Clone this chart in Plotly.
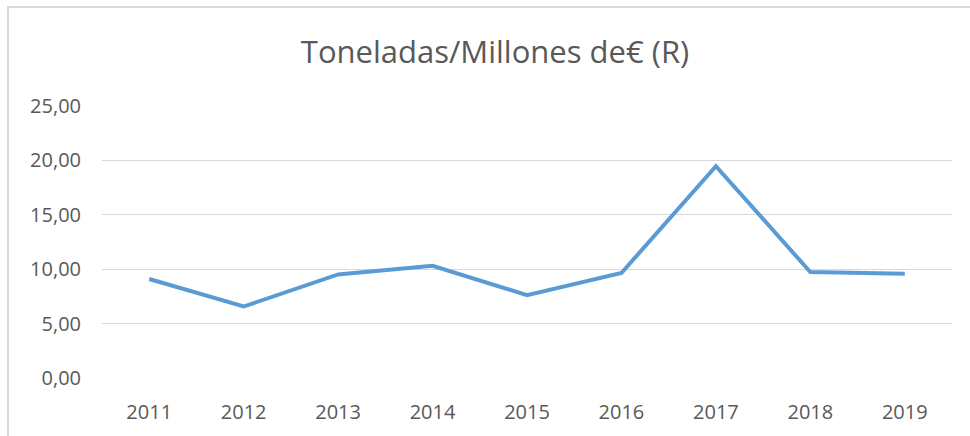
'''
    Line chart: Toneladas/Millones de€ (R), 2011-2019.
'''

import plotly.graph_objects as go

YEARS = ["2011", "2012", "2013", "2014", "2015", "2016", "2017", "2018", "2019"]
VALUES = [9.10, 6.57, 9.52, 10.32, 7.62, 9.65, 19.47, 9.74, 9.58]
Y_TICKS = [0, 5, 10, 15, 20, 25]

LINE_COLOR = "#5B9BD5"
GRID_COLOR = "#D9D9D9"
TEXT_COLOR = "#595959"
FONT = "Open Sans, Arial, sans-serif"

WIDTH, HEIGHT = 970, 436

# plot area in screen pixels, as measured on the reference
PLOT_L, PLOT_R, PLOT_T, PLOT_B = 102, 952, 106, 378


def px_to_paper_x(px):
    return (px - PLOT_L) / (PLOT_R - PLOT_L)


def px_to_paper_y(py):
    return (PLOT_B - py) / (PLOT_B - PLOT_T)


fig = go.Figure()

fig.add_trace(go.Scatter(
    x=YEARS,
    y=VALUES,
    mode="lines",
    line=dict(color=LINE_COLOR, width=4),
    hoverinfo="x+y",
))

fig.update_xaxes(
    type="category",
    range=[-0.5, len(YEARS) - 0.5],
    showgrid=False,
    zeroline=False,
    showline=False,
    ticks="",
    tickfont=dict(size=20, color=TEXT_COLOR, family=FONT),
    ticklabelstandoff=20,
)

fig.update_yaxes(
    range=[0, 25],
    tickvals=Y_TICKS,
    tickformat=".2f",
    showgrid=True,
    gridcolor=GRID_COLOR,
    gridwidth=1,
    zeroline=False,
    showline=False,
    ticks="",
    tickfont=dict(size=20, color=TEXT_COLOR, family=FONT),
    ticklabelstandoff=20,
)

# outer chart frame (light grey, open at right/bottom like the crop)
fig.add_shape(
    type="rect",
    xref="paper", yref="paper",
    x0=px_to_paper_x(8), x1=px_to_paper_x(WIDTH + 20),
    y0=px_to_paper_y(HEIGHT + 20), y1=px_to_paper_y(7),
    line=dict(color=GRID_COLOR, width=2),
    fillcolor="rgba(0,0,0,0)",
    layer="below",
)

fig.update_layout(
    width=WIDTH,
    height=HEIGHT,
    separators=",.",
    paper_bgcolor="#FFFFFF",
    plot_bgcolor="#FFFFFF",
    font=dict(family=FONT, color=TEXT_COLOR),
    title=dict(
        text="Toneladas/Millones de€ (R)",
        x=495 / WIDTH,
        xanchor="center",
        y=1 - 52 / HEIGHT,
        yanchor="middle",
        font=dict(size=31, color=TEXT_COLOR, family=FONT),
    ),
    margin=dict(l=PLOT_L, r=WIDTH - PLOT_R, t=PLOT_T, b=HEIGHT - PLOT_B),
    showlegend=False,
)

# drop the default 8px page margin so the figure sits at the window origin
fig.write_html(
    "out.html",
    config={"displayModeBar": False},
    post_script="document.body.style.margin='0';",
)
